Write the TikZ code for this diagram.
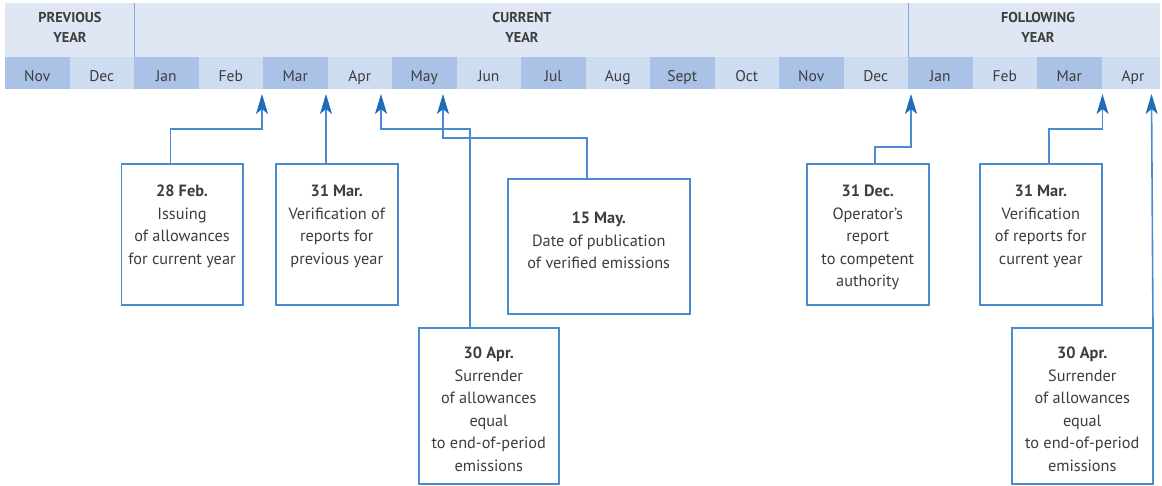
\documentclass[tikz,border=0pt]{standalone}
\usepackage{fontspec}
\setmainfont{PT Sans}
\usetikzlibrary{arrows.meta,calc}
\definecolor{hdr}{HTML}{DFE7F5}
\definecolor{mdark}{HTML}{A9C2E6}
\definecolor{mlight}{HTML}{CDDCF1}
\definecolor{divc}{HTML}{85A9DA}
\definecolor{txt}{HTML}{3D3D3D}
\definecolor{boxc}{HTML}{4A8BD0}
\definecolor{arrc}{HTML}{1F6CBA}
\begin{document}
\begin{tikzpicture}[x=1pt,y=-1pt,
  month/.style={minimum width=64.5pt, minimum height=32pt, inner sep=0pt, outer sep=0pt, anchor=north west},
  mlabel/.style={font=\fontsize{15.5}{18}\selectfont, text=txt, anchor=base, inner sep=0pt},
  hlabel/.style={font=\bfseries\fontsize{14.3}{20}\selectfont, text=txt, align=center, anchor=north, inner sep=0pt},
  evbox/.style={draw=boxc, line width=1.5pt, inner sep=0pt, anchor=north west},
  evtext/.style={font=\fontsize{16.3}{22.5}\selectfont, text=txt, align=center, anchor=north, inner sep=0pt},
  conn/.style={draw=boxc, line width=1.6pt, -{Stealth[length=20pt,width=12pt,inset=5pt,color=arrc]}},
]
\useasboundingbox (0,0) rectangle (1162,485);
% header strip
\fill[hdr] (5,3) rectangle (1160,57);
\draw[divc, line width=1pt] (134,3) -- (134,57);
\draw[divc, line width=1pt] (908,3) -- (908,57);
\node[hlabel] (hprev) at (70,12) {PREVIOUS\\YEAR};
\node[hlabel] (hcur) at (522,12) {CURRENT\\YEAR};
\node[hlabel] (hfol) at (1038,12) {FOLLOWING\\YEAR};
% months
\begin{scope}
\clip (5,0) rectangle (1160,100);
\foreach \i/\n in {0/Nov,1/Dec,2/Jan,3/Feb,4/Mar,5/Apr,6/May,7/Jun,8/Jul,9/Aug,10/Sept,11/Oct,12/Nov,13/Dec,14/Jan,15/Feb,16/Mar,17/Apr}{
  \pgfmathtruncatemacro{\odd}{mod(\i,2)}
  \ifnum\odd=0 \def\mc{mdark}\else\def\mc{mlight}\fi
  \node[month, fill=\mc] (m\i) at (5+\i*64.5,57) {};
}
\end{scope}
\foreach \i/\n in {0/Nov,1/Dec,2/Jan,3/Feb,4/Mar,5/Apr,6/May,7/Jun,8/Jul,9/Aug,10/Sept,11/Oct,12/Nov,13/Dec,14/Jan,15/Feb,16/Mar}{
  \node[mlabel] (l\i) at (37.25+\i*64.5,81.5) {\n};
}
\node[mlabel] (l17) at (1133,81.5) {Apr};
% boxes
\node[evbox, minimum width=121.5pt, minimum height=141pt] (b1) at (120.5,163) {};
\node[evbox, minimum width=122pt, minimum height=141pt] (b2) at (275,163) {};
\node[evbox, minimum width=182pt, minimum height=135pt] (b3) at (507,178) {};
\node[evbox, minimum width=140pt, minimum height=156pt] (b4) at (418,327) {};
\node[evbox, minimum width=122pt, minimum height=141pt] (b5) at (806,163) {};
\node[evbox, minimum width=122pt, minimum height=141pt] (b6) at (979,163) {};
\node[evbox, minimum width=141pt, minimum height=156pt] (b7) at (1011,327) {};
% texts
\node[evtext] (t1) at ($(b1.north)+(0,22)$) {\textbf{28 Feb.}\\Issuing\\of allowances\\for current year};
\node[evtext] (t2) at ($(b2.north)+(0,22)$) {\textbf{31 Mar.}\\Verification of\\reports for\\previous year};
\node[evtext] (t3) at ($(b3.north)+(0,34)$) {\textbf{15 May.}\\Date of publication\\of verified emissions};
\node[evtext] (t4) at ($(b4.north)+(0,20)$) {\textbf{30 Apr.}\\Surrender\\of allowances\\equal\\to end-of-period\\emissions};
\node[evtext] (t5) at ($(b5.north)+(0,22)$) {\textbf{31 Dec.}\\Operator’s\\report\\to competent\\authority};
\node[evtext] (t6) at ($(b6.north)+(0,22)$) {\textbf{31 Mar.}\\Verification\\of reports for\\current year};
\node[evtext] (t7) at ($(b7.north)+(0,20)$) {\textbf{30 Apr.}\\Surrender\\of allowances\\equal\\to end-of-period\\emissions};
% arrow tips
\coordinate (a1) at (262,94);
\coordinate (a2) at (326,94);
\coordinate (a3) at (381,94);
\coordinate (a4) at (443,94);
\coordinate (a5) at (911,94);
\coordinate (a6) at (1102.5,94);
\coordinate (a7) at (1151.5,94);
% connectors
\draw[conn] ($(b1.north west)+(50,0)$) |- ($(a1)+(0,35)$) -- (a1);
\draw[conn] ($(b2.north west)+(51,0)$) -- (a2);
\draw[conn] ($(b3.north west)+(80,0)$) |- ($(a4)+(0,44)$) -- (a4);
\draw[conn] ($(b4.north west)+(52,0)$) |- ($(a3)+(0,35)$) -- (a3);
\draw[conn] ($(b5.north west)+(69,0)$) |- ($(a5)+(0,53)$) -- (a5);
\draw[conn] ($(b6.north west)+(70,0)$) |- ($(a6)+(0,35)$) -- (a6);
\draw[conn] ($(b7.north east)+(-0.5,0)$) -- (a7);
\end{tikzpicture}
\end{document}
